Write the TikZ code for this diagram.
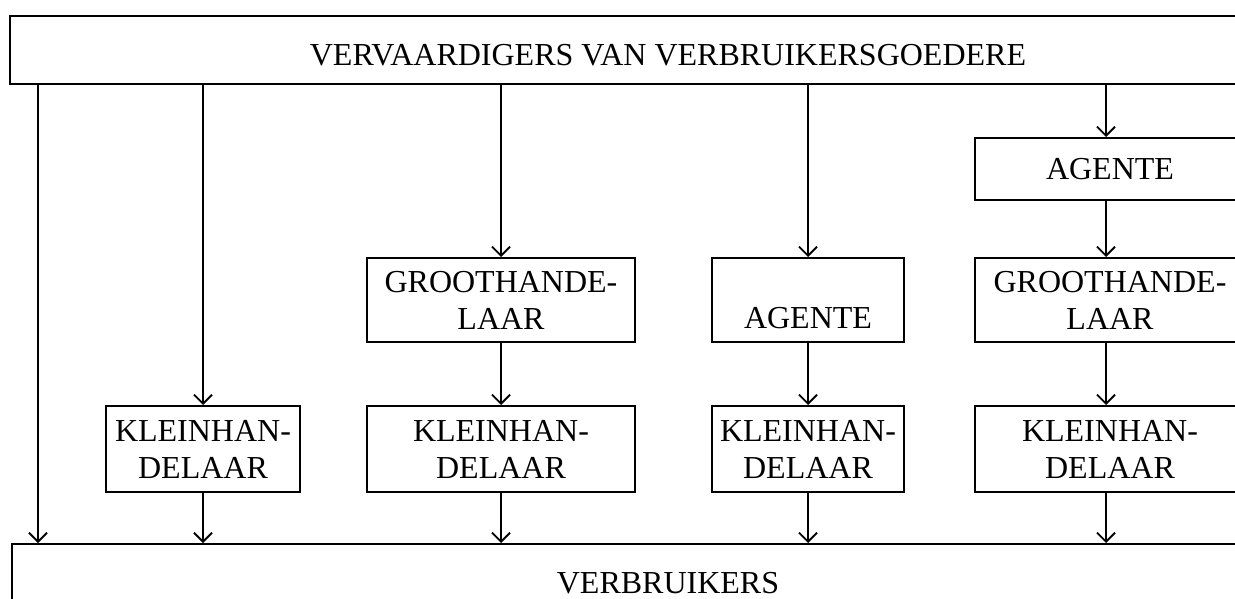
\documentclass[tikz,border=0pt]{standalone}
\usepackage{fontspec}
\setmainfont{Liberation Serif}
\usetikzlibrary{arrows.meta}
\begin{document}
\begin{tikzpicture}[x=1pt,y=-1pt,
  box/.style={draw,line width=2pt,rectangle,inner sep=0pt,align=center,
    font=\fontsize{32}{37}\selectfont},
  pair/.style={box,minimum width=194pt,minimum height=86pt},
  wide/.style={box,minimum width=268pt,minimum height=84pt},
  arr/.style={line width=2pt,-{Straight Barb[length=9pt,width=18pt,line width=1.8pt]}}]
\clip (0,0) rectangle (1235,599);
\fill[white] (0,0) rectangle (1235,599);

% producers and consumers
\node[box,minimum width=1316pt,minimum height=68pt] (top) at (668,50)
  {\raisebox{-5pt}[\height][\depth]{VERVAARDIGERS VAN VERBRUIKERSGOEDERE}};
\node[box,minimum width=1312pt,minimum height=78pt] (bot) at (668,583) {VERBRUIKERS};

% channel 1: direct
\coordinate (direct) at (38,300);

% channel 2: retailer
\node[pair] (k1) at (203,449) {KLEINHAN-\\DELAAR};

% channel 3: wholesaler, retailer
\node[wide] (g2) at (501,300) {GROOTHANDE-\\LAAR};
\node[wide,minimum height=86pt] (k2) at (501,449) {KLEINHAN-\\DELAAR};

% channel 4: agent, retailer
\node[pair,minimum width=192pt,minimum height=84pt] (a3) at (808,300) {\vphantom{K}\\AGENTE};
\node[pair,minimum width=192pt] (k3) at (808,449) {KLEINHAN-\\DELAAR};

% channel 5: agent, wholesaler, retailer
\node[wide,minimum width=270pt,minimum height=62pt] (a4) at (1110,169) {AGENTE};
\node[wide,minimum width=270pt] (g4) at (1110,300) {GROOTHANDE-\\LAAR};
\node[wide,minimum width=270pt,minimum height=86pt] (k4) at (1110,449) {KLEINHAN-\\DELAAR};

% flows
\draw[arr] (direct |- top.south) -- (direct |- bot.north);
\draw[arr] (k1 |- top.south) -- (k1);
\draw[arr] (k1) -- (k1 |- bot.north);
\draw[arr] (g2 |- top.south) -- (g2);
\draw[arr] (g2) -- (k2);
\draw[arr] (k2) -- (k2 |- bot.north);
\draw[arr] (a3 |- top.south) -- (a3);
\draw[arr] (a3) -- (k3);
\draw[arr] (k3) -- (k3 |- bot.north);
\coordinate (c4) at (1106,300);
\draw[arr] (c4 |- top.south) -- (c4 |- a4.north);
\draw[arr] (c4 |- a4.south) -- (c4 |- g4.north);
\draw[arr] (c4 |- g4.south) -- (c4 |- k4.north);
\draw[arr] (c4 |- k4.south) -- (c4 |- bot.north);
\end{tikzpicture}
\end{document}
